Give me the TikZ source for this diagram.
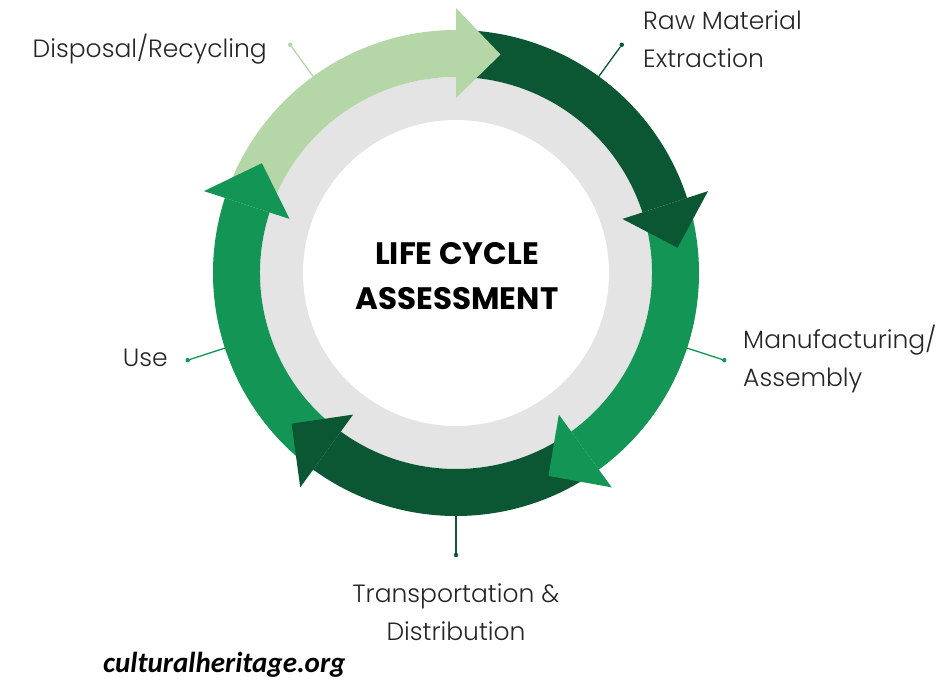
\documentclass[tikz,border=0pt]{standalone}
\usepackage{fontspec}
\newfontfamily\lblfont{Poppins Light}
\newfontfamily\titlefont{Poppins Bold}
\newfontfamily\markfont{Carlito}
\usetikzlibrary{positioning}
\definecolor{darkg}{HTML}{0B5733}
\definecolor{midg}{HTML}{129555}
\definecolor{lightg}{HTML}{B5D7A8}
\definecolor{ringgray}{HTML}{E4E4E4}
\tikzset{
  lbl/.style={font=\lblfont\fontsize{25}{38}\selectfont, text=black!85, inner sep=0pt, align=left},
  leader/.style={line width=1.3pt},
  dotmark/.style={circle, fill, inner sep=0pt, minimum size=4.5pt}
}
\begin{document}
\begin{tikzpicture}[x=1pt,y=1pt]
    \useasboundingbox (-456,-408) rectangle (488,273);
    % ring behind the arrows
    \fill[ringgray] (0,0) circle (196pt);
    \fill[white] (0,0) circle (153pt);
    % arrow bodies first, heads on top
    \foreach \h/\c in {90/lightg, 18/darkg, -54/midg, -126/darkg, 162/midg}
        \fill[\c] ({\h+69}:243) arc[start angle=\h+69, end angle=\h, radius=243pt]
            -- (\h:196) arc[start angle=\h, end angle=\h+69, radius=196pt] -- cycle;
    \foreach \h/\c in {90/lightg, 18/darkg, -54/midg, -126/darkg, 162/midg}
        \fill[\c] (\h:265) -- ({\h-11.5}:223) -- (\h:175) -- cycle;
    % leader lines with dots
    \foreach \a/\c/\n in {126/lightg/dsp, 54/darkg/raw, -18/midg/man, -90/darkg/trn, -162/midg/use} {
        \coordinate (\n-r) at (\a:243);
        \node[dotmark, text=\c, fill=\c] (\n-d) at (\a:282) {};
        \draw[leader, \c] (\n-r) -- (\n-d);
    }
    \node[font=\titlefont\fontsize{31}{45}\selectfont, align=center] (title) at (1,-3) {LIFE CYCLE\\ASSESSMENT};
    \node[lbl, anchor=east] (dsp) at (-189,224) {Disposal/Recycling};
    \node[lbl, anchor=west] (raw) at (187,234) {Raw Material\\Extraction};
    \node[lbl, anchor=west] (man) at (287,-86) {Manufacturing/\\Assembly};
    \node[lbl, anchor=east] (use) at (-288,-85) {Use};
    \node[lbl, align=center] (trn) at (0,-339) {Transportation \&\\Distribution};
    \node[font=\markfont\bfseries\itshape\fontsize{29}{32}\selectfont, anchor=west, inner sep=0pt] (site) at (-353,-392) {culturalheritage.org};
\end{tikzpicture}
\end{document}
